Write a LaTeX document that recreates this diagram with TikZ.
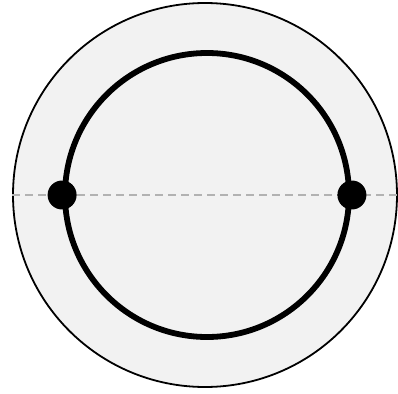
\documentclass[tikz,border=0pt]{standalone}
\usetikzlibrary{positioning}

\begin{document}
\begin{tikzpicture}[
    x=1pt, y=-1pt,
    disk/.style={draw, circle, line width=1.8pt, fill=gray!10, minimum size=384pt, inner sep=0pt},
    ring/.style={draw, circle, line width=5.8pt, minimum size=284pt, inner sep=0pt},
    joint/.style={circle, fill=black, minimum size=29pt, inner sep=0pt},
    axis/.style={gray!60, line width=1.6pt, dash pattern=on 8pt off 5pt}
]
\useasboundingbox (0,0) rectangle (398,393);
\node[disk] (outer) at (205,195) {};
\node[ring] (inner) at (207,195) {};
\coordinate (edge) at (398,195);
\draw[axis] (outer.west) -- (edge);
\node[joint] (left) at (inner.west) {};
\node[joint] (right) at (inner.east) {};
\end{tikzpicture}
\end{document}
